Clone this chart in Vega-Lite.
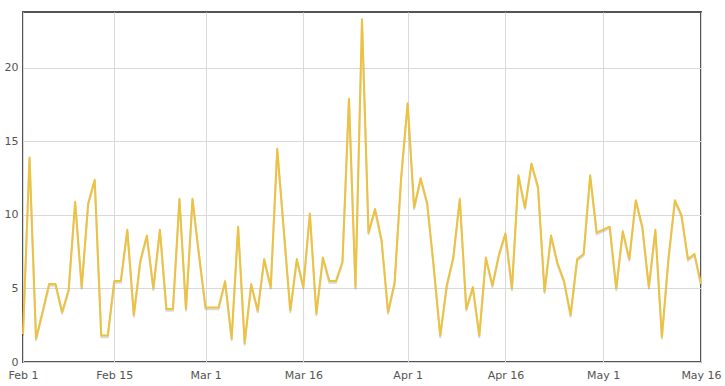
{
  "$schema": "https://vega.github.io/schema/vega-lite/v6.json",
  "width": 678,
  "height": 350,
  "autosize": {"type": "none"},
  "padding": {"left": 23, "top": 12, "right": 24, "bottom": 24},
  "background": "white",
  "config": {
    "view": {"stroke": "#545454", "strokeWidth": 2},
    "axis": {
      "domain": false,
      "ticks": false,
      "grid": true,
      "gridColor": "#d9d9d9",
      "gridWidth": 1,
      "labelColor": "#545454",
      "labelFont": "DejaVu Sans",
      "labelFontSize": 11,
      "title": null
    }
  },
  "data": {
    "format": {"parse": {"d": "date:'%Y-%m-%d'"}},
    "values": [
      {"d": "2015-02-01", "v": 1.9},
      {"d": "2015-02-02", "v": 13.9},
      {"d": "2015-02-03", "v": 1.6},
      {"d": "2015-02-04", "v": 3.4},
      {"d": "2015-02-05", "v": 5.3},
      {"d": "2015-02-06", "v": 5.3},
      {"d": "2015-02-07", "v": 3.4},
      {"d": "2015-02-08", "v": 4.9},
      {"d": "2015-02-09", "v": 10.9},
      {"d": "2015-02-10", "v": 5.1},
      {"d": "2015-02-11", "v": 10.8},
      {"d": "2015-02-12", "v": 12.4},
      {"d": "2015-02-13", "v": 1.8},
      {"d": "2015-02-14", "v": 1.8},
      {"d": "2015-02-15", "v": 5.5},
      {"d": "2015-02-16", "v": 5.5},
      {"d": "2015-02-17", "v": 9.0},
      {"d": "2015-02-18", "v": 3.2},
      {"d": "2015-02-19", "v": 6.9},
      {"d": "2015-02-20", "v": 8.6},
      {"d": "2015-02-21", "v": 5.0},
      {"d": "2015-02-22", "v": 9.0},
      {"d": "2015-02-23", "v": 3.6},
      {"d": "2015-02-24", "v": 3.6},
      {"d": "2015-02-25", "v": 11.1},
      {"d": "2015-02-26", "v": 3.6},
      {"d": "2015-02-27", "v": 11.1},
      {"d": "2015-02-28", "v": 7.3},
      {"d": "2015-03-01", "v": 3.7},
      {"d": "2015-03-02", "v": 3.7},
      {"d": "2015-03-03", "v": 3.7},
      {"d": "2015-03-04", "v": 5.5},
      {"d": "2015-03-05", "v": 1.6},
      {"d": "2015-03-06", "v": 9.2},
      {"d": "2015-03-07", "v": 1.3},
      {"d": "2015-03-08", "v": 5.3},
      {"d": "2015-03-09", "v": 3.5},
      {"d": "2015-03-10", "v": 7.0},
      {"d": "2015-03-11", "v": 5.1},
      {"d": "2015-03-12", "v": 14.5},
      {"d": "2015-03-13", "v": 9.0},
      {"d": "2015-03-14", "v": 3.5},
      {"d": "2015-03-15", "v": 7.0},
      {"d": "2015-03-16", "v": 5.1},
      {"d": "2015-03-17", "v": 10.1},
      {"d": "2015-03-18", "v": 3.3},
      {"d": "2015-03-19", "v": 7.1},
      {"d": "2015-03-20", "v": 5.5},
      {"d": "2015-03-21", "v": 5.5},
      {"d": "2015-03-22", "v": 6.8},
      {"d": "2015-03-23", "v": 17.9},
      {"d": "2015-03-24", "v": 5.1},
      {"d": "2015-03-25", "v": 23.3},
      {"d": "2015-03-26", "v": 8.8},
      {"d": "2015-03-27", "v": 10.4},
      {"d": "2015-03-28", "v": 8.3},
      {"d": "2015-03-29", "v": 3.4},
      {"d": "2015-03-30", "v": 5.4},
      {"d": "2015-03-31", "v": 12.5},
      {"d": "2015-04-01", "v": 17.6},
      {"d": "2015-04-02", "v": 10.5},
      {"d": "2015-04-03", "v": 12.5},
      {"d": "2015-04-04", "v": 10.8},
      {"d": "2015-04-05", "v": 6.5},
      {"d": "2015-04-06", "v": 1.8},
      {"d": "2015-04-07", "v": 5.2},
      {"d": "2015-04-08", "v": 7.1},
      {"d": "2015-04-09", "v": 11.1},
      {"d": "2015-04-10", "v": 3.6},
      {"d": "2015-04-11", "v": 5.1},
      {"d": "2015-04-12", "v": 1.8},
      {"d": "2015-04-13", "v": 7.1},
      {"d": "2015-04-14", "v": 5.2},
      {"d": "2015-04-15", "v": 7.3},
      {"d": "2015-04-16", "v": 8.75},
      {"d": "2015-04-17", "v": 5.0},
      {"d": "2015-04-18", "v": 12.7},
      {"d": "2015-04-19", "v": 10.5},
      {"d": "2015-04-20", "v": 13.5},
      {"d": "2015-04-21", "v": 11.9},
      {"d": "2015-04-22", "v": 4.8},
      {"d": "2015-04-23", "v": 8.6},
      {"d": "2015-04-24", "v": 6.7},
      {"d": "2015-04-25", "v": 5.5},
      {"d": "2015-04-26", "v": 3.2},
      {"d": "2015-04-27", "v": 7.0},
      {"d": "2015-04-28", "v": 7.35},
      {"d": "2015-04-29", "v": 12.7},
      {"d": "2015-04-30", "v": 8.8},
      {"d": "2015-05-01", "v": 9.0},
      {"d": "2015-05-02", "v": 9.2},
      {"d": "2015-05-03", "v": 5.0},
      {"d": "2015-05-04", "v": 8.9},
      {"d": "2015-05-05", "v": 7.0},
      {"d": "2015-05-06", "v": 11.0},
      {"d": "2015-05-07", "v": 9.2},
      {"d": "2015-05-08", "v": 5.1},
      {"d": "2015-05-09", "v": 9.0},
      {"d": "2015-05-10", "v": 1.7},
      {"d": "2015-05-11", "v": 7.0},
      {"d": "2015-05-12", "v": 11.0},
      {"d": "2015-05-13", "v": 10.0},
      {"d": "2015-05-14", "v": 7.0},
      {"d": "2015-05-15", "v": 7.35},
      {"d": "2015-05-16", "v": 5.3}
    ]
  },
  "encoding": {
    "x": {
      "field": "d",
      "type": "temporal",
      "scale": {"domain": [{"year": 2015, "month": 2, "date": 1}, {"year": 2015, "month": 5, "date": 16}]},
      "axis": {
        "values": [
          {"year": 2015, "month": 2, "date": 1},
          {"year": 2015, "month": 2, "date": 15},
          {"year": 2015, "month": 3, "date": 1},
          {"year": 2015, "month": 3, "date": 16},
          {"year": 2015, "month": 4, "date": 1},
          {"year": 2015, "month": 4, "date": 16},
          {"year": 2015, "month": 5, "date": 1},
          {"year": 2015, "month": 5, "date": 16}
        ],
        "format": "%b %-d",
        "labelPadding": 7,
        "labelFlush": false,
        "labelOverlap": false
      }
    },
    "y": {
      "field": "v",
      "type": "quantitative",
      "scale": {"domain": [0, 23.8], "nice": false, "zero": true},
      "axis": {"values": [0, 5, 10, 15, 20], "labelPadding": 5, "labelFlush": false}
    }
  },
  "layer": [
    {"mark": {"type": "line", "color": "#000000", "opacity": 0.15, "strokeWidth": 2, "yOffset": 1.75, "strokeJoin": "round"}},
    {"mark": {"type": "line", "color": "#edc240", "strokeWidth": 2, "strokeJoin": "round"}}
  ]
}
